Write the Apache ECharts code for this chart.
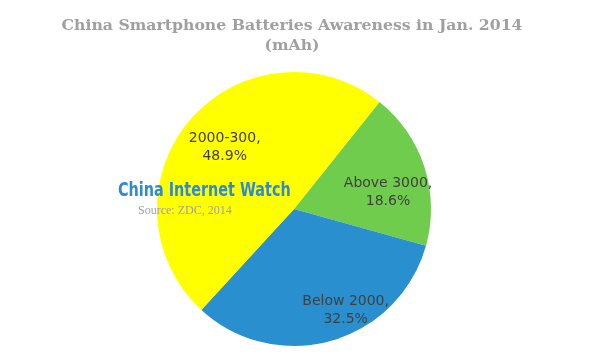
<!DOCTYPE html>
<html><head><meta charset="utf-8">
<script src="https://cdn.jsdelivr.net/npm/echarts@6/dist/echarts.min.js"></script>
<style>html,body{margin:0;padding:0;background:#fff}#c{width:600px;height:364px}</style>
</head><body><div id="c"></div>
<script>
const categories = ['Above 3000', 'Below 2000', '2000-300'];
const shares = [18.6, 32.5, 48.9];
const sliceColors = ['#70CC4C', '#2A8FCE', '#FFFF00'];
const labelShift = [[26, 5], [32, 33], [-15, -15]];

const chart = echarts.init(document.getElementById('c'), null, {renderer: 'canvas'});
chart.setOption({
  animation: false,
  title: {
    text: 'China Smartphone Batteries Awareness in Jan. 2014\n(mAh)',
    left: 287, top: 11, textAlign: 'center',
    textStyle: {fontFamily: 'DejaVu Serif', fontWeight: 'bold', fontSize: 15.7, color: '#A0A0A0', lineHeight: 20}
  },
  graphic: [
    {type: 'text', z: 100, x: 118, y: 181, scaleX: 0.8, style: {text: 'China Internet Watch', font: 'bold 20px "DejaVu Sans Condensed", sans-serif', fill: '#2F8BD0'}},
    {type: 'text', z: 100, x: 138, y: 205, style: {text: 'Source: ZDC, 2014', font: '12px "Liberation Serif", serif', fill: '#A0A0A0'}}
  ],
  series: [{
    type: 'pie',
    center: [294, 209],
    radius: 137,
    startAngle: 51.4,
    clockwise: true,
    silent: true,
    label: {
      position: 'inside',
      formatter: p => p.name + ',\n' + p.value + '%',
      fontFamily: 'DejaVu Sans', fontSize: 14, color: '#404040', lineHeight: 18
    },
    labelLayout: p => ({dx: labelShift[p.dataIndex][0], dy: labelShift[p.dataIndex][1]}),
    labelLine: {show: false},
    itemStyle: {borderWidth: 0},
    data: categories.map((n, i) => ({name: n, value: shares[i], itemStyle: {color: sliceColors[i]}}))
  }]
});
</script></body></html>
